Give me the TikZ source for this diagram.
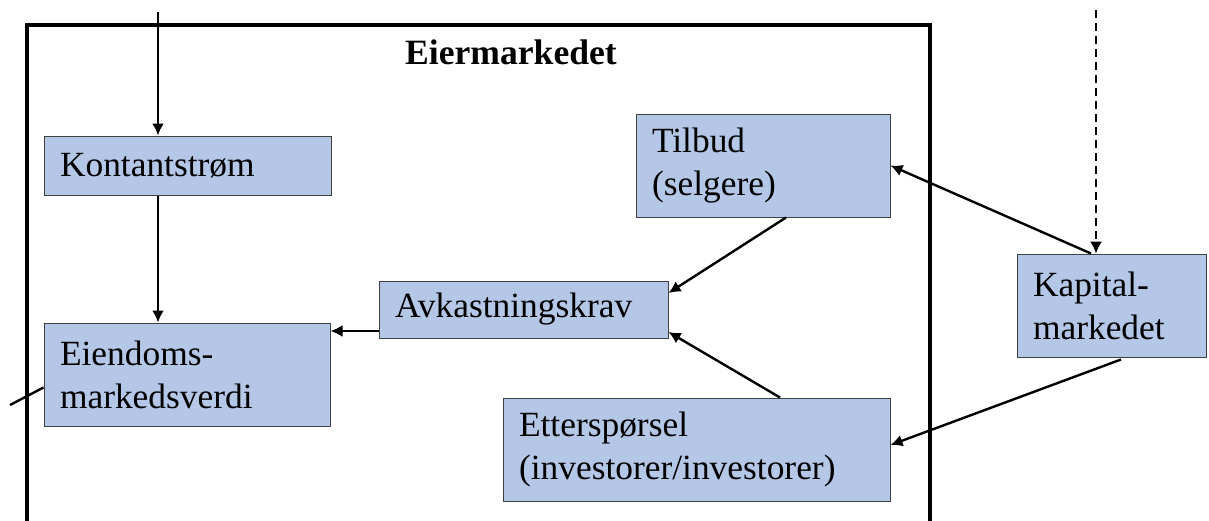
\documentclass[tikz,border=0pt]{standalone}
\usepackage{fontspec}
\setmainfont{Liberation Serif}
\usetikzlibrary{arrows.meta}
\definecolor{boxblue}{RGB}{180,199,231}
\definecolor{boxline}{RGB}{64,64,64}
\tikzset{
  boks/.style 2 args={draw=boxline, line width=0.5pt, fill=boxblue, align=left,
    inner xsep=8pt, inner ysep=0pt, text width=#1, minimum height=#2,
    font=\fontsize{17.7pt}{21.5pt}\selectfont},
  pil/.style={-{Latex[length=6pt,width=6pt]}, line width=1.2pt}
}
\begin{document}
\begin{tikzpicture}[x=0.5pt,y=-0.5pt]
  \useasboundingbox (0,0) rectangle (1209,520);
  \clip (0,0) rectangle (1209,520);
  \draw[line width=2pt] (27,25) rectangle (930,560);
  \path (511,52) node(tittel)[font=\fontsize{17.8pt}{21.5pt}\selectfont\bfseries] {Eiermarkedet};

  \path (187.5,165.5) node(kontant)[boks={127.5pt}{29.5pt}] {Kontantstrøm}
        (187,374.5)   node(eiendom)[boks={127pt}{51.5pt}] {Eiendoms-\\markedsverdi}
        (523.5,309.5) node(avkast)[boks={128.5pt}{28.5pt}] {Avkastningskrav}
        (763,165.5)   node(tilbud)[boks={111pt}{51.5pt}] {Tilbud\\(selgere)}
        (696.5,449.5) node(etter)[boks={177.5pt}{51.5pt}] {Etterspørsel\\(investorer/investorer)}
        (1111.5,305.5) node(kapital)[boks={78.5pt}{51.5pt}] {Kapital-\\markedet};

  \coordinate (inn) at (158,12);
  \coordinate (kap) at (1096,10);
  \coordinate (ut) at (10,405);

  \draw[pil] (inn) -- (inn |- kontant.north);
  \draw[pil] (kontant.south -| inn) -- (eiendom.north -| inn);
  \draw[pil] ([yshift=-10.75pt]avkast.west) coordinate (a) -- (a -| eiendom.east);
  \draw[pil] ([xshift=11.5pt]tilbud.south) -- ([yshift=8.25pt]avkast.east);
  \draw[pil] ([xshift=41.75pt]etter.north) -- ([yshift=-11.25pt]avkast.east);
  \draw[pil] ([xshift=-10.25pt]kapital.north) -- (tilbud.east);
  \draw[pil, line width=0.75pt, dash pattern=on 4pt off 2.5pt] (kap) -- (kap |- kapital.north);
  \draw[pil] ([xshift=4.75pt,yshift=-1pt]kapital.south) -- ([yshift=2.25pt]etter.east);
  \draw[line width=1.2pt] (ut) -- ([yshift=-6.5pt]eiendom.west);
\end{tikzpicture}
\end{document}
